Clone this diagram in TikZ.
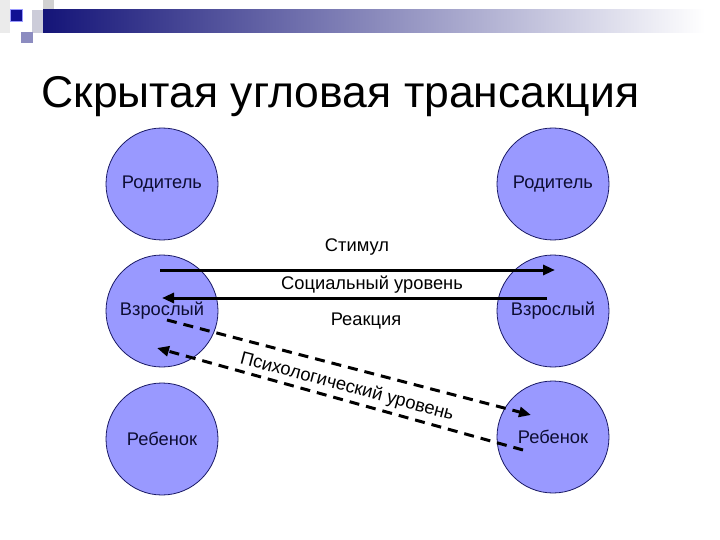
\documentclass[tikz,border=0pt]{standalone}
\usepackage{fontspec}
\setmainfont{Liberation Sans}
\usetikzlibrary{arrows.meta}
\definecolor{egofill}{HTML}{9999FF}
\definecolor{egoline}{HTML}{1A1A66}
\definecolor{egotext}{HTML}{0D0D33}
\definecolor{barnavy}{HTML}{141478}

\begin{document}
\begin{tikzpicture}[x=1pt,y=-1pt,
    ego/.style={circle, draw=egoline, line width=0.8pt, fill=egofill, text=egotext,
      minimum size=112pt, inner sep=0pt, font=\fontsize{18.3}{21}\selectfont},
    social/.style={line width=3pt, -{Triangle[length=12pt,width=10pt]}},
    hidden/.style={line width=3pt, dash pattern=on 10pt off 7pt,
      -{Triangle[length=12pt,width=10pt]}},
    lbl/.style={font=\fontsize{18.3}{21}\selectfont}]
			%%%%% START %%%%%
			\useasboundingbox[fill=white] (0,0) rectangle (720,540);

			% header strip
			\fill[black!8] (0,0) rectangle (10,33);
			\fill[blue!25!black!20] (32,10) rectangle (43,33);
			\fill[black!18] (43,0) rectangle (54,10);
			\fill[left color=barnavy, middle color=black!30!blue!25, right color=white]
				(43,10) rectangle (705,33);
			\fill[barnavy!80!blue, draw=blue!40] (10,9) rectangle (22,21);
			\fill[blue!45!black!45] (21,32) rectangle (33,43);

			\node[anchor=base west, font=\fontsize{44.5}{50}\selectfont] (title) at (38,108)
				{Скрытая угловая трансакция};

			% ego states
			\node[ego] (parL) at (162,184) {Родитель};
			\node[ego] (adL) at (162,311) {Взрослый};
			\node[ego] (chL) at (162,439) {Ребенок};
			\node[ego] (parR) at (553,184) {Родитель};
			\node[ego] (adR) at (553,311) {Взрослый};
			\node[ego] (chR) at (553,437) {Ребенок};

			% social level
			\coordinate (stimA) at (160,270);
			\coordinate (stimB) at (555,270);
			\coordinate (reacA) at (547,298);
			\coordinate (reacB) at (162,298);
			\draw[social] (stimA) -- (stimB);
			\draw[social] (reacA) -- (reacB);
			\node[lbl] (stim) at (357,247) {Стимул};
			\node[lbl] (soc) at (372,285) {Социальный уровень};
			\node[lbl] (reac) at (366,321) {Реакция};

			% psychological level
			\coordinate (psyA) at (167,320);
			\coordinate (psyB) at (531,415);
			\coordinate (psyC) at (523,450);
			\coordinate (psyD) at (157,348);
			\draw[hidden] (psyA) -- (psyB);
			\draw[hidden] (psyC) -- (psyD);
			\node[lbl, rotate=-15] (psy) at (347,387) {Психологический уровень};
			%%%%% END %%%%%
\end{tikzpicture}
\end{document}
